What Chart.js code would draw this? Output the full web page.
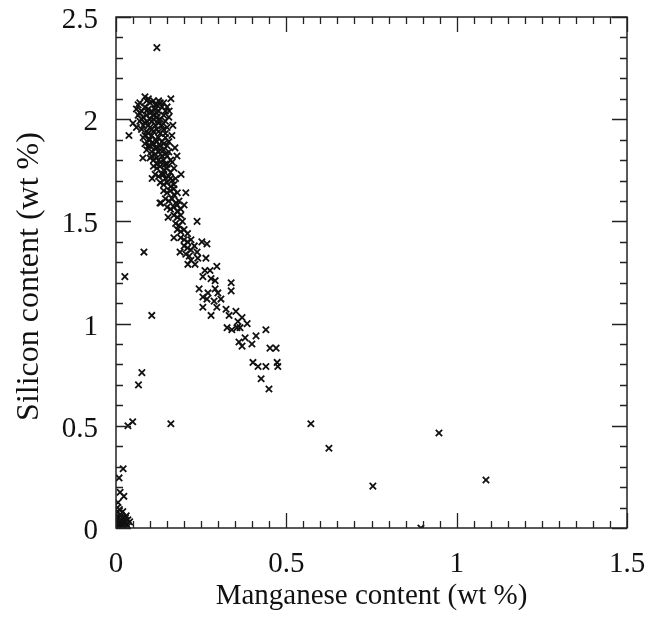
<!DOCTYPE html>
<html>
<head>
<meta charset="utf-8">
<script src="https://cdn.jsdelivr.net/npm/chart.js@4/dist/chart.umd.min.js"></script>
<style>
  html, body { margin: 0; padding: 0; background: #fff; }
  #wrap { width: 648px; height: 618px; position: relative; }
</style>
</head>
<body>
<div id="wrap"><canvas id="scatter"></canvas></div>
<script>
// Manganese (x, wt %) vs silicon (y, wt %)
const upperCluster = [
  [0.07,2.08],[0.085,2.11],[0.09,2.09],[0.10,2.08],[0.11,2.09],[0.12,2.07],[0.13,2.08],
  [0.06,2.05],[0.075,2.04],[0.085,2.06],[0.095,2.05],[0.105,2.04],[0.115,2.05],[0.125,2.04],[0.135,2.06],
  [0.065,2.02],[0.08,2.01],[0.09,2.02],[0.10,2.00],[0.11,2.02],[0.12,2.01],[0.13,2.00],[0.14,2.02],
  [0.07,1.99],[0.085,1.98],[0.095,1.97],[0.105,1.99],[0.115,1.97],[0.125,1.98],[0.135,1.97],[0.145,1.99],
  [0.06,1.96],[0.075,1.95],[0.09,1.94],[0.10,1.96],[0.11,1.94],[0.12,1.95],[0.13,1.93],[0.14,1.95],
  [0.05,1.98],[0.038,1.92],[0.079,1.81],[0.167,1.97],[0.164,1.92],[0.156,2.04],[0.173,1.86],
  [0.179,1.82],[0.106,1.71],[0.132,1.59],[0.191,1.73],[0.205,1.64],[0.161,2.10]
];

const denseCore = [
  [0.065,2.07],[0.095,2.10],[0.115,2.07],[0.125,2.09],[0.14,2.08],[0.15,2.06],[0.07,2.03],
  [0.09,2.04],[0.10,2.03],[0.12,2.03],[0.145,2.04],[0.155,2.01],[0.075,2.00],[0.09,1.99],
  [0.11,2.00],[0.125,1.995],[0.15,1.96],[0.08,1.97],[0.095,1.93],[0.105,1.95],[0.125,1.94],
  [0.145,1.93],[0.085,1.92],[0.10,1.90],[0.12,1.89],[0.14,1.88],[0.155,1.89],[0.095,1.87],
  [0.115,1.86],[0.13,1.85],[0.15,1.82],[0.105,1.82],[0.125,1.80],[0.145,1.78],[0.165,1.79],
  [0.12,1.78],[0.14,1.73],[0.16,1.71],[0.17,1.66],[0.18,1.58]
];

const middleCluster = [
  [0.08,1.91],[0.095,1.90],[0.105,1.92],[0.115,1.90],[0.125,1.91],[0.135,1.89],[0.145,1.91],
  [0.085,1.88],[0.10,1.87],[0.11,1.88],[0.12,1.86],[0.13,1.87],[0.14,1.85],[0.15,1.87],
  [0.09,1.85],[0.105,1.84],[0.115,1.83],[0.125,1.84],[0.135,1.82],[0.145,1.83],[0.155,1.84],
  [0.10,1.81],[0.11,1.80],[0.12,1.81],[0.13,1.79],[0.14,1.80],[0.15,1.78],[0.16,1.80],
  [0.11,1.77],[0.12,1.76],[0.13,1.77],[0.14,1.75],[0.15,1.76],[0.16,1.74],[0.17,1.76],
  [0.115,1.73],[0.125,1.72],[0.135,1.73],[0.145,1.71],[0.155,1.72],[0.165,1.70],[0.175,1.71],
  [0.13,1.69],[0.14,1.68],[0.15,1.69],[0.16,1.67],[0.17,1.68],
  [0.14,1.65],[0.15,1.64],[0.16,1.65],[0.17,1.63],[0.18,1.64],
  [0.145,1.61],[0.155,1.60],[0.165,1.61],[0.175,1.59],[0.185,1.60],
  [0.15,1.57],[0.16,1.56],[0.17,1.57],[0.18,1.55],[0.19,1.56],[0.20,1.58]
];

const descendingTrail = [
  [0.17,1.53],[0.18,1.52],[0.19,1.53],[0.175,1.49],[0.185,1.48],[0.195,1.50],
  [0.18,1.46],[0.19,1.45],[0.20,1.46],[0.21,1.44],[0.19,1.42],[0.20,1.41],[0.21,1.40],[0.22,1.41],
  [0.20,1.38],[0.21,1.37],[0.22,1.36],[0.23,1.38],[0.205,1.34],[0.215,1.33],[0.22,1.31],[0.24,1.32],
  [0.129,1.59],[0.153,1.52],[0.238,1.50],[0.170,1.42],[0.188,1.35],[0.252,1.40],[0.267,1.39],
  [0.238,1.35],[0.264,1.32],[0.211,1.29],[0.232,1.29],[0.296,1.28],[0.261,1.26],[0.276,1.26],
  [0.255,1.23],[0.279,1.22],[0.291,1.21],[0.338,1.20],[0.338,1.16],[0.244,1.17],[0.270,1.15],
  [0.291,1.17],[0.299,1.15],[0.255,1.13],[0.267,1.12],[0.288,1.11],[0.308,1.12],[0.255,1.08],
  [0.296,1.08],[0.279,1.04],[0.323,1.07],[0.332,1.04],[0.352,1.06],[0.370,1.03],[0.358,1.01],
  [0.385,1.00],[0.326,0.98],[0.340,0.97],[0.355,0.98],[0.364,0.98],[0.379,0.93],[0.361,0.91],
  [0.370,0.89],[0.399,0.90],[0.411,0.94],[0.440,0.97],[0.452,0.88],[0.470,0.88],[0.402,0.81],
  [0.417,0.79],[0.440,0.79],[0.473,0.81],[0.475,0.79],[0.426,0.73],[0.449,0.68]
];

const nearOrigin = [
  [0.0,0.0],[0.005,0.01],[0.01,0.0],[0.015,0.02],[0.02,0.01],[0.025,0.03],[0.03,0.02],
  [0.035,0.04],[0.0,0.03],[0.005,0.05],[0.01,0.04],[0.015,0.06],[0.02,0.05],[0.025,0.0],
  [0.03,0.06],[0.0,0.07],[0.005,0.08],[0.01,0.09],[0.015,0.03],[0.02,0.08],[0.035,0.01],
  [0.04,0.03],[0.0,0.05],[0.01,0.02],[0.02,0.03],[0.012,0.0],[0.028,0.05],[0.004,0.10],
  [0.021,0.29],[0.009,0.245],[0.012,0.175],[0.023,0.155],[0.006,0.125]
];

const scattered = [
  [0.120,2.35],[0.026,1.23],[0.082,1.35],[0.105,1.04],[0.076,0.76],[0.066,0.70],
  [0.049,0.52],[0.035,0.50],[0.161,0.51],[0.572,0.51],[0.625,0.39],[0.754,0.205],
  [0.948,0.465],[1.086,0.235],[0.895,0.0]
];

const xTickLabels = [0, 0.5, 1, 1.5];
const yTickLabels = [0, 0.5, 1, 1.5, 2, 2.5];
const xTitle = "Manganese content (wt %)";
const yTitle = "Silicon content (wt %)";

const allPoints = [].concat(upperCluster, denseCore, middleCluster, descendingTrail, nearOrigin, scattered)
  .map(p => ({ x: p[0], y: p[1] }));

const serif = '"Liberation Serif", "Times New Roman", serif';

// frame, inward minor/major ticks on all four sides, tick labels and y title
const framePlugin = {
  id: "frame",
  afterDraw(chart) {
    const { ctx, chartArea } = chart;
    const { left, right, top, bottom } = chartArea;
    const xs = chart.scales.x, ys = chart.scales.y;
    ctx.save();
    ctx.strokeStyle = "#222";
    ctx.lineWidth = 1.5;
    ctx.strokeRect(left, top, right - left, bottom - top);
    ctx.lineWidth = 1.3;
    ctx.beginPath();
    for (let i = 0; i <= 30; i++) {
      const px = Math.round(xs.getPixelForValue(i * 0.05)) + 0.5;
      const len = i % 10 === 0 ? 15 : 7;
      ctx.moveTo(px, bottom); ctx.lineTo(px, bottom - len);
      ctx.moveTo(px, top); ctx.lineTo(px, top + len);
    }
    for (let i = 0; i <= 25; i++) {
      const py = Math.round(ys.getPixelForValue(i * 0.1)) + 0.5;
      const len = i % 5 === 0 ? 15 : 7;
      ctx.moveTo(left, py); ctx.lineTo(left + len, py);
      ctx.moveTo(right, py); ctx.lineTo(right - len, py);
    }
    ctx.stroke();

    ctx.fillStyle = "#111";
    ctx.font = "29px " + serif;
    ctx.textBaseline = "alphabetic";
    ctx.textAlign = "center";
    xTickLabels.forEach(v => ctx.fillText(String(v), xs.getPixelForValue(v), bottom + 44));
    ctx.textAlign = "right";
    yTickLabels.forEach(v => ctx.fillText(String(v), left - 18, ys.getPixelForValue(v) + 11));

    // rotated y axis title
    ctx.translate(38, (top + bottom) / 2 + 4);
    ctx.rotate(-Math.PI / 2);
    ctx.textAlign = "center";
    ctx.font = "32px " + serif;
    ctx.fillText(yTitle, 0, 0);
    ctx.restore();
  }
};

new Chart(document.getElementById("scatter"), {
  type: "scatter",
  data: {
    datasets: [{
      label: "Si vs Mn",
      data: allPoints,
      pointStyle: "crossRot",
      pointRadius: 4.5,
      pointBorderWidth: 1.8,
      borderColor: "#111",
      backgroundColor: "#111",
    }],
  },
  options: {
    responsive: true,
    maintainAspectRatio: false,
    animation: false,
    layout: { padding: { left: 0, right: 21, top: 17, bottom: 0 } },
    plugins: { legend: { display: false }, tooltip: { enabled: false } },
    scales: {
      x: {
        type: "linear",
        min: 0,
        max: 1.5,
        afterFit: (scale) => { scale.height = 90; },
        grid: { display: false },
        border: { display: false },
        ticks: { display: false },
        title: {
          display: true,
          text: xTitle,
          color: "#111",
          padding: { top: 0, bottom: 4 },
          font: { family: serif, size: 29 },
        },
      },
      y: {
        type: "linear",
        min: 0,
        max: 2.5,
        afterFit: (scale) => { scale.width = 116; },
        grid: { display: false },
        border: { display: false },
        ticks: { display: false },
        title: { display: false },
      },
    },
  },
  plugins: [framePlugin],
});
</script>
</body>
</html>
